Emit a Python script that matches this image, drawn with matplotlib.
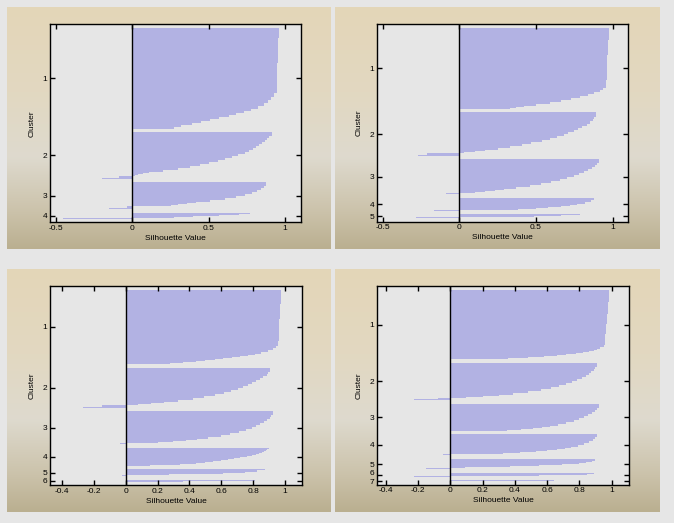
import matplotlib.pyplot as plt
import matplotlib.transforms as mtransforms
import numpy as np

# Silhouette values per cluster (sorted high -> low). Each value comes with a
# run length = how many consecutive points share that bar width.

# k = 4
k4_sil = [
    [0.96, 0.955, 0.95, 0.945, 0.93, 0.91, 0.89, 0.86, 0.82, 0.78, 0.73, 0.68,
     0.63, 0.57, 0.51, 0.45, 0.39, 0.32, 0.27],
    [0.913, 0.898, 0.885, 0.868, 0.85, 0.83, 0.81, 0.79, 0.765, 0.735, 0.69, 0.65,
     0.605, 0.56, 0.5, 0.44, 0.375, 0.3, 0.2, 0.11, 0.07, 0.04, 0.015, -0.087, -0.196],
    [0.876, 0.865, 0.845, 0.815, 0.785, 0.74, 0.68, 0.61, 0.51, 0.42, 0.36, 0.3,
     0.25, -0.033, -0.152],
    [0.77, 0.70, 0.57, 0.40, 0.27, -0.454],
]
k4_run = [
    [10, 25, 20, 10, 4, 3, 3, 3, 3, 2, 2, 2, 2, 2, 2, 2, 2, 2, 2],
    [4, 2, 2, 2, 2, 2, 2, 2, 2, 2, 2, 2, 2, 2, 2, 2, 2, 2, 2, 1, 1, 1, 1, 2, 1],
    [4, 2, 2, 2, 2, 2, 2, 2, 2, 1, 1, 1, 1, 2, 1],
    [1, 1, 1, 1, 1, 1],
]

# k = 5
k5_sil = [
    [0.975, 0.97, 0.965, 0.96, 0.955, 0.94, 0.915, 0.88, 0.84, 0.79, 0.73, 0.66,
     0.59, 0.5, 0.42, 0.37, 0.33],
    [0.893, 0.88, 0.87, 0.85, 0.83, 0.80, 0.775, 0.745, 0.71, 0.68, 0.635, 0.59,
     0.54, 0.47, 0.41, 0.33, 0.25, 0.17, 0.1, 0.03, -0.208, -0.27],
    [0.908, 0.9, 0.885, 0.865, 0.84, 0.81, 0.78, 0.745, 0.7, 0.655, 0.6, 0.53,
     0.46, 0.37, 0.29, 0.23, 0.17, 0.1, -0.087],
    [0.878, 0.86, 0.82, 0.77, 0.72, 0.66, 0.58, 0.5, 0.38, -0.165],
    [0.785, 0.665, 0.485, -0.28],
]
k5_run = [
    [12, 15, 15, 10, 8, 2, 2, 2, 2, 2, 2, 2, 2, 2, 1, 1, 1],
    [5, 2, 2, 2, 2, 2, 2, 2, 2, 2, 2, 2, 2, 2, 2, 2, 2, 1, 1, 1, 2, 1],
    [4, 2, 2, 2, 2, 2, 2, 2, 2, 2, 2, 2, 2, 2, 1, 1, 1, 1, 1],
    [2, 2, 2, 1, 1, 1, 1, 1, 1, 1],
    [1, 1, 1, 1],
]

# k = 6
k6_sil = [
    [0.975, 0.97, 0.965, 0.96, 0.955, 0.945, 0.925, 0.895, 0.85, 0.81, 0.77, 0.72,
     0.67, 0.61, 0.56, 0.5, 0.44, 0.36, 0.28],
    [0.906, 0.895, 0.885, 0.865, 0.845, 0.82, 0.795, 0.765, 0.735, 0.705, 0.66,
     0.615, 0.56, 0.49, 0.42, 0.33, 0.24, 0.16, 0.08, -0.149, -0.268],
    [0.922, 0.915, 0.905, 0.89, 0.87, 0.845, 0.82, 0.79, 0.755, 0.71, 0.655, 0.6,
     0.52, 0.45, 0.38, 0.3, 0.2, -0.033],
    [0.90, 0.89, 0.88, 0.87, 0.855, 0.84, 0.82, 0.79, 0.76, 0.72, 0.68, 0.64, 0.6,
     0.55, 0.5, 0.44, 0.34, 0.15],
    [0.877, 0.825, 0.75, 0.61, 0.27, -0.021],
    [0.814, 0.36],
]
k6_run = [
    [14, 15, 15, 7, 5, 2, 2, 2, 2, 1, 1, 1, 1, 1, 1, 1, 1, 1, 1],
    [4, 2, 2, 2, 2, 2, 2, 2, 2, 2, 2, 2, 2, 2, 2, 2, 1, 1, 1, 2, 1],
    [4, 2, 2, 2, 2, 2, 2, 2, 2, 2, 2, 2, 2, 1, 1, 1, 1, 1],
    [1, 1, 1, 1, 1, 1, 1, 1, 1, 1, 1, 1, 1, 1, 1, 1, 1, 1],
    [1, 2, 1, 1, 1, 1],
    [1, 1],
]

# k = 7
k7_sil = [
    [0.983, 0.978, 0.974, 0.968, 0.961, 0.95, 0.93, 0.91, 0.89, 0.86, 0.82, 0.78,
     0.72, 0.66, 0.58, 0.48, 0.36],
    [0.91, 0.9, 0.89, 0.875, 0.86, 0.84, 0.815, 0.785, 0.755, 0.72, 0.675, 0.625,
     0.56, 0.48, 0.39, 0.3, 0.2, 0.1, -0.076, -0.224],
    [0.922, 0.912, 0.898, 0.878, 0.855, 0.83, 0.8, 0.765, 0.72, 0.665, 0.62, 0.57,
     0.51, 0.44, 0.35],
    [0.91, 0.9, 0.885, 0.862, 0.83, 0.79, 0.75, 0.71, 0.66, 0.6, 0.53, 0.43, 0.33,
     -0.045],
    [0.895, 0.88, 0.84, 0.80, 0.69, 0.55, 0.37, 0.09, -0.151],
    [0.89, 0.845, 0.55, -0.225],
    [0.643],
]
k7_run = [
    [12, 12, 10, 10, 11, 2, 2, 1, 1, 1, 1, 1, 1, 1, 1, 1, 1],
    [4, 2, 2, 2, 2, 2, 2, 2, 2, 2, 2, 2, 2, 2, 2, 1, 1, 1, 1, 1],
    [4, 2, 2, 2, 2, 2, 2, 2, 2, 2, 1, 1, 1, 1, 1],
    [3, 2, 2, 2, 2, 2, 1, 1, 1, 1, 1, 1, 1, 1],
    [2, 1, 1, 1, 1, 1, 1, 1, 1],
    [1, 1, 1, 1],
    [1],
]

ticks_half = [-0.5, 0, 0.5, 1]
labels_half = ['-0.5', '0', '0.5', '1']
ticks_fifth = [-0.4, -0.2, 0, 0.2, 0.4, 0.6, 0.8, 1]
labels_fifth = ['-0.4', '-0.2', '0', '0.2', '0.4', '0.6', '0.8', '1']

BAR = '#b2b2e3'
AX_BG = '#e6e6e6'
FONT = ['Liberation Sans', 'DejaVu Sans']
FS = 6

W, H = 674, 523
fig = plt.figure(figsize=(W / 100, H / 100), dpi=100, facecolor='#e6e6e6')


def px_axes(l, t, r, b, **kw):
    return fig.add_axes([l / W, 1 - b / H, (r - l) / W, (b - t) / H], **kw)


# beige -> light -> tan vertical gradient behind every panel
stops = [0, 0.35, 0.62, 0.85, 1]
cols = np.array([[228, 214, 184], [226, 216, 193], [222, 218, 206],
                 [203, 194, 170], [186, 175, 144]]) / 255
t = np.linspace(0, 1, 256)
grad = np.stack([np.interp(t, stops, cols[:, i]) for i in range(3)], axis=1)[:, None, :]


def draw_panel(box, axbox, sil, run, xlim, ticks, labels, gap=3.5):
    bg = px_axes(*box)
    bg.imshow(grad, aspect='auto', extent=[0, 1, 0, 1], interpolation='bilinear')
    bg.set_axis_off()

    ax = px_axes(*axbox)
    ax.set_facecolor(AX_BG)
    y = gap
    centers = []
    for vals, counts in zip(sil, run):
        top = y
        counts = np.asarray(counts, float)
        edges = y + np.concatenate([[0], np.cumsum(counts)])
        ax.barh(edges[:-1] + counts / 2, vals, height=counts, color=BAR,
                linewidth=0, antialiased=False)
        y = edges[-1]
        centers.append((top + y) / 2)
        y += gap
    ax.set_ylim(y, 0)
    ax.set_xlim(*xlim)
    ax.axvline(0, color='k', lw=1, zorder=3)

    ax.set_yticks(centers)
    ax.set_yticklabels([str(i + 1) for i in range(len(centers))])
    ax.set_xticks(ticks)
    ax.set_xticklabels(labels)
    ax.tick_params(direction='in', top=True, right=True, length=3.5, width=1,
                   labelsize=FS, pad=2)
    for lab in ax.get_xticklabels() + ax.get_yticklabels():
        lab.set_family(FONT)
    for s in ax.spines.values():
        s.set_linewidth(1)
    ax.set_xlabel('Silhouette Value', fontsize=FS, family=FONT, labelpad=2)
    ax.set_ylabel('Cluster', fontsize=FS, family=FONT, labelpad=5)
    return ax


draw_panel((7, 7, 331, 249), (50, 24.3, 301, 222.3), k4_sil, k4_run,
           (-0.54, 1.105), ticks_half, labels_half)
draw_panel((335, 7, 660, 249), (377, 24.3, 628, 221.7), k5_sil, k5_run,
           (-0.537, 1.1), ticks_half, labels_half)
draw_panel((7, 269, 331, 512), (50, 286.3, 302, 485.3), k6_sil, k6_run,
           (-0.475, 1.107), ticks_fifth, labels_fifth)
ax7 = draw_panel((335, 269, 660, 512), (377, 286.3, 629, 484.7), k7_sil, k7_run,
                 (-0.454, 1.108), ticks_fifth, labels_fifth)

# the last two cluster labels of k = 7 sit very close; nudge them apart a bit
ylabs = ax7.get_yticklabels()
ylabs[-2].set_transform(ylabs[-2].get_transform() +
                        mtransforms.ScaledTranslation(0, 1.2 / 72, fig.dpi_scale_trans))
ylabs[-1].set_transform(ylabs[-1].get_transform() +
                        mtransforms.ScaledTranslation(0, -0.8 / 72, fig.dpi_scale_trans))

fig.savefig('out.png', dpi=100, facecolor=fig.get_facecolor())
